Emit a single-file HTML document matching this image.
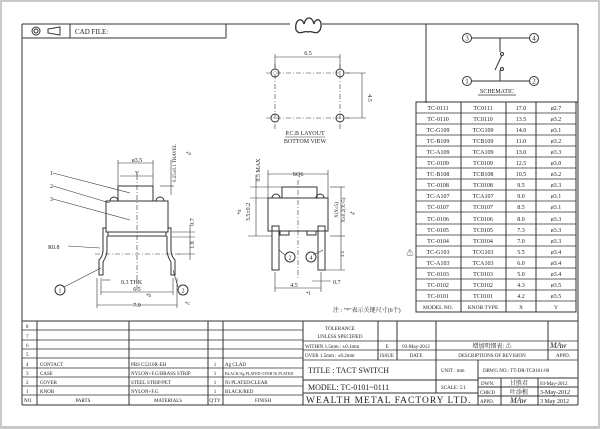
<!DOCTYPE html>
<html><head><meta charset="utf-8"><style>
html,body{margin:0;padding:0;background:#c9c9c9;}
svg{display:block;}
text{font-family:"Liberation Serif","Noto Serif CJK SC",serif;fill:#222;}
</style></head><body>
<svg width="600" height="429" viewBox="0 0 600 429" xmlns="http://www.w3.org/2000/svg">
<rect x="2" y="2" width="596" height="424" fill="#fff"/>
<g stroke="#333" fill="none" stroke-width="1">
<line x1="22" y1="24" x2="290" y2="24"/><line x1="322" y1="24" x2="578" y2="24"/>
<line x1="22" y1="24" x2="22" y2="405"/><line x1="578" y1="24" x2="578" y2="405"/>
<line x1="22" y1="405" x2="578" y2="405"/>
<line x1="22" y1="38" x2="226" y2="38"/><line x1="226" y1="24" x2="226" y2="38"/>
<line x1="70" y1="24" x2="70" y2="38"/>
<circle cx="36" cy="31" r="4"/><circle cx="36" cy="31" r="2"/>
<path d="M48 29 L60 27 L60 35 L48 33 Z"/>
<path d="M296 30 C294 20 302 16 304 24 C306 16 312 16 314 24 C316 16 324 20 320 30 C316 36 312 30 308 32 C304 30 300 36 296 30 Z" stroke-width="1.3"/>
<line x1="426" y1="24" x2="426" y2="103"/>
<line x1="418" y1="102" x2="578" y2="102"/>
<line x1="472" y1="38" x2="529" y2="38"/><line x1="472" y1="81" x2="529" y2="81"/>
<line x1="500" y1="38" x2="500" y2="52"/><line x1="500" y1="70" x2="500" y2="81"/>
<line x1="495" y1="70" x2="502" y2="55"/>
<circle cx="502" cy="54" r="1.5"/><circle cx="502" cy="69" r="1.5"/>
<circle cx="467" cy="38" r="4.5"/><circle cx="534" cy="38" r="4.5"/>
<circle cx="467" cy="81" r="4.5"/><circle cx="534" cy="81" r="4.5"/>
<line x1="478" y1="95" x2="516" y2="95" stroke-width="0.7"/>
<circle cx="275" cy="73" r="4"/><circle cx="340" cy="73" r="4"/>
<circle cx="275" cy="118" r="4"/><circle cx="340" cy="118" r="4"/>
<g stroke-dasharray="5,2,1,2" stroke-width="0.6">
<line x1="266" y1="73" x2="350" y2="73"/><line x1="266" y1="118" x2="350" y2="118"/>
<line x1="275" y1="64" x2="275" y2="130"/><line x1="340" y1="64" x2="340" y2="130"/>
</g>
<line x1="275" y1="57" x2="340" y2="57" stroke-width="0.6"/>
<line x1="275" y1="54" x2="275" y2="68" stroke-width="0.6"/><line x1="340" y1="54" x2="340" y2="68" stroke-width="0.6"/>
<line x1="345" y1="73" x2="366" y2="73" stroke-width="0.6"/><line x1="345" y1="118" x2="366" y2="118" stroke-width="0.6"/>
<line x1="362" y1="73" x2="362" y2="118" stroke-width="0.6"/>
<line x1="285" y1="137" x2="325" y2="137" stroke-width="0.6"/>
<rect x="118" y="186" width="35" height="15"/>
<rect x="106" y="201" width="62" height="31"/>
<rect x="108" y="232" width="58" height="4"/>
<path d="M110 201 a4 4 0 0 1 8 0 M156 201 a4 4 0 0 1 8 0"/>
<path d="M106 228 L103 228 L103 250 Q103 256 99 260 L99 275 L103 275 L103 262 Q107 256 107 250 L107 236"/>
<path d="M168 228 L171 228 L171 250 Q171 256 175 260 L175 275 L171 275 L171 262 Q167 256 167 250 L167 236"/>
<g stroke-dasharray="5,2,1,2" stroke-width="0.6"><line x1="137" y1="175" x2="137" y2="290"/><line x1="95" y1="254" x2="180" y2="254"/></g>
<g stroke-width="0.6">
<line x1="118" y1="163" x2="153" y2="163"/><line x1="120" y1="176" x2="153" y2="176"/>
<line x1="118" y1="160" x2="118" y2="186"/><line x1="153" y1="160" x2="153" y2="186"/>
<line x1="160" y1="186" x2="174" y2="186"/><line x1="171" y1="160" x2="171" y2="195"/>
<line x1="172" y1="232" x2="195" y2="232"/><line x1="172" y1="237" x2="195" y2="237"/><line x1="178" y1="254" x2="195" y2="254"/>
<line x1="190" y1="225" x2="190" y2="260"/>
<line x1="101" y1="292" x2="173" y2="292"/><line x1="97" y1="305" x2="177" y2="305"/>
<line x1="101" y1="278" x2="101" y2="295"/><line x1="173" y1="278" x2="173" y2="295"/>
<line x1="97" y1="278" x2="97" y2="308"/><line x1="177" y1="278" x2="177" y2="308"/>
<line x1="53" y1="173" x2="130" y2="193"/><line x1="53" y1="186" x2="110" y2="203"/>
<line x1="53" y1="199" x2="130" y2="220"/><line x1="68" y1="246" x2="100" y2="248"/>
<line x1="64" y1="287" x2="101" y2="268"/><line x1="178" y1="287" x2="173" y2="270"/>
<line x1="102" y1="280" x2="110" y2="280"/>
</g>
<circle cx="60" cy="290" r="5"/><circle cx="183" cy="290" r="5"/>
<rect x="282" y="187" width="35" height="11"/>
<rect x="268" y="198" width="60" height="33"/>
<path d="M272 198 a4 4 0 0 1 8 0 M316 198 a4 4 0 0 1 8 0"/>
<rect x="272" y="226" width="7" height="44"/><rect x="318" y="226" width="7" height="44"/>
<rect x="280" y="231" width="9" height="4"/><rect x="307" y="231" width="9" height="4"/>
<g stroke-dasharray="5,2,1,2" stroke-width="0.6"><line x1="298" y1="180" x2="298" y2="280"/></g>
<g stroke-width="0.6">
<line x1="268" y1="174" x2="328" y2="174"/><line x1="268" y1="170" x2="268" y2="198"/><line x1="328" y1="170" x2="328" y2="198"/>
<line x1="250" y1="187" x2="282" y2="187"/><line x1="250" y1="198" x2="268" y2="198"/>
<line x1="256" y1="175" x2="256" y2="236"/><line x1="248" y1="236" x2="272" y2="236"/>
<line x1="330" y1="236" x2="345" y2="236"/><line x1="330" y1="187" x2="345" y2="187"/><line x1="325" y1="270" x2="345" y2="270"/>
<line x1="341" y1="187" x2="341" y2="270"/>
<line x1="275" y1="288" x2="321" y2="288"/><line x1="275" y1="272" x2="275" y2="292"/><line x1="321" y1="272" x2="321" y2="292"/>
<line x1="312" y1="281" x2="331" y2="281"/>
<line x1="279" y1="250" x2="285" y2="255"/><line x1="323" y1="250" x2="313" y2="255"/>
</g>
<circle cx="290" cy="257" r="5"/><circle cx="311" cy="257" r="5"/>
<rect x="416" y="102" width="160" height="210"/>
<line x1="461" y1="102" x2="461" y2="312"/><line x1="506" y1="102" x2="506" y2="312"/><line x1="536" y1="102" x2="536" y2="312"/>
<path d="M416 113H576M416 124H576M416 135H576M416 146H576M416 157H576M416 168H576M416 179H576M416 190H576M416 201H576M416 212H576M416 224H576M416 235H576M416 246H576M416 257H576M416 268H576M416 279H576M416 290H576M416 301H576" stroke-width="0.7"/>
<line x1="22" y1="321" x2="578" y2="321"/>
<line x1="37" y1="321" x2="37" y2="405"/><line x1="129" y1="321" x2="129" y2="405"/><line x1="208" y1="321" x2="208" y2="405"/><line x1="223" y1="321" x2="223" y2="405"/><line x1="303" y1="321" x2="303" y2="405"/>
<path d="M22 330H303M22 340H303M22 349H303M22 358H303M22 368H303M22 377H303M22 386H303M22 395H303" stroke-width="0.7"/>
<line x1="378" y1="321" x2="378" y2="360"/><line x1="397" y1="321" x2="397" y2="360"/><line x1="436" y1="321" x2="436" y2="360"/><line x1="548" y1="321" x2="548" y2="360"/>
<path d="M303 341H578M303 350H578M303 360H578" stroke-width="0.7"/>
<line x1="303" y1="380" x2="478" y2="380"/><line x1="303" y1="393" x2="478" y2="393"/>
<line x1="436" y1="360" x2="436" y2="393"/><line x1="478" y1="360" x2="478" y2="405"/>
<line x1="478" y1="378" x2="578" y2="378"/><line x1="478" y1="387" x2="578" y2="387"/><line x1="478" y1="396" x2="578" y2="396"/>
<line x1="501" y1="378" x2="501" y2="405"/><line x1="538" y1="378" x2="538" y2="405"/>
</g>
<g font-size="6">
<text x="75" y="34" font-size="7">CAD FILE:</text>
<text x="467" y="40.5" font-size="7" text-anchor="middle">3</text><text x="534" y="40.5" font-size="7" text-anchor="middle">4</text>
<text x="467" y="83.5" font-size="7" text-anchor="middle">1</text><text x="534" y="83.5" font-size="7" text-anchor="middle">2</text>
<text x="497" y="93" text-anchor="middle" font-size="6">SCHEMATIC</text>
<text x="308" y="55" text-anchor="middle">6.5</text>
<text x="368" y="98" transform="rotate(90 368 98)" text-anchor="middle">4.5</text>
<text x="305" y="135" text-anchor="middle">P.C.B LAYOUT</text>
<text x="305" y="143" text-anchor="middle">BOTTOM VIEW</text>
<text x="137" y="162" text-anchor="middle">ø3.5</text><text x="137" y="175" text-anchor="middle">Y</text>
<text x="176" y="163" transform="rotate(-90 176 163)" text-anchor="middle" font-size="5">0.25±0.1 TRAVEL</text>
<text x="186" y="155" font-size="5">*a</text>
<text x="50" y="175">1</text><text x="50" y="188">2</text><text x="50" y="201">3</text>
<text x="48" y="249">R0.8</text>
<text x="121" y="284">0.3 THK</text>
<text x="137" y="291" text-anchor="middle">6.5</text><text x="146" y="297" font-size="5">*b</text>
<text x="137" y="307" text-anchor="middle">7.9</text><text x="185" y="305" font-size="5">*c</text>
<text x="194" y="222" transform="rotate(-90 194 222)" text-anchor="middle">0.7</text>
<text x="194" y="245" transform="rotate(-90 194 245)" text-anchor="middle">1.8</text>
<text x="60" y="292.5" text-anchor="middle" font-size="6">1</text><text x="183" y="292.5" text-anchor="middle" font-size="6">2</text>
<text x="298" y="176" text-anchor="middle">SQ6</text>
<text x="260" y="170" transform="rotate(-90 260 170)" text-anchor="middle">0.5 MAX</text>
<text x="250" y="212" transform="rotate(-90 250 212)" text-anchor="middle">3.5±0.2</text>
<text x="241" y="212" transform="rotate(-90 241 212)" text-anchor="middle" font-size="5">*d</text>
<text x="338" y="210" transform="rotate(-90 338 210)" text-anchor="middle" font-size="5">X(X≤5)</text>
<text x="345" y="210" transform="rotate(-90 345 210)" text-anchor="middle" font-size="5">X±0.2(X&gt;5)</text>
<text x="350" y="215" font-size="5">*e</text>
<text x="344" y="254" transform="rotate(-90 344 254)" text-anchor="middle" font-size="5">3.5</text>
<text x="333" y="284">0.7</text>
<text x="294" y="287" text-anchor="middle">4.5</text><text x="306" y="295" font-size="5">*f</text>
<text x="290" y="259.5" text-anchor="middle" font-size="6">2</text><text x="311" y="259.5" text-anchor="middle" font-size="6">4</text>
<text x="333" y="312" font-size="6">注 : "*"表示关键尺寸(6个)</text>
</g>
<g font-size="6" text-anchor="middle">
<g><text x="438" y="110">TC-0111</text><text x="483" y="110">TC0111</text><text x="521" y="110">17.0</text><text x="556" y="110">ø2.7</text></g>
<g><text x="438" y="121">TC-0110</text><text x="483" y="121">TC0110</text><text x="521" y="121">13.5</text><text x="556" y="121">ø3.2</text></g>
<g><text x="438" y="132">TC-G109</text><text x="483" y="132">TCG109</text><text x="521" y="132">14.0</text><text x="556" y="132">ø3.1</text></g>
<g><text x="438" y="143">TC-B109</text><text x="483" y="143">TCB109</text><text x="521" y="143">11.0</text><text x="556" y="143">ø3.2</text></g>
<g><text x="438" y="154">TC-A109</text><text x="483" y="154">TCA109</text><text x="521" y="154">13.0</text><text x="556" y="154">ø3.3</text></g>
<g><text x="438" y="165">TC-0109</text><text x="483" y="165">TC0109</text><text x="521" y="165">12.5</text><text x="556" y="165">ø3.0</text></g>
<g><text x="438" y="176">TC-B108</text><text x="483" y="176">TCB108</text><text x="521" y="176">10.5</text><text x="556" y="176">ø3.2</text></g>
<g><text x="438" y="187">TC-0108</text><text x="483" y="187">TC0108</text><text x="521" y="187">9.5</text><text x="556" y="187">ø3.3</text></g>
<g><text x="438" y="198">TC-A107</text><text x="483" y="198">TCA107</text><text x="521" y="198">9.0</text><text x="556" y="198">ø3.1</text></g>
<g><text x="438" y="209">TC-0107</text><text x="483" y="209">TC0107</text><text x="521" y="209">8.5</text><text x="556" y="209">ø3.1</text></g>
<g><text x="438" y="221">TC-0106</text><text x="483" y="221">TC0106</text><text x="521" y="221">8.0</text><text x="556" y="221">ø3.3</text></g>
<g><text x="438" y="232">TC-0105</text><text x="483" y="232">TC0105</text><text x="521" y="232">7.3</text><text x="556" y="232">ø3.3</text></g>
<g><text x="438" y="243">TC-0104</text><text x="483" y="243">TC0104</text><text x="521" y="243">7.0</text><text x="556" y="243">ø3.3</text></g>
<g><text x="438" y="254">TC-G103</text><text x="483" y="254">TCG103</text><text x="521" y="254">5.5</text><text x="556" y="254">ø3.4</text></g>
<g><text x="438" y="265">TC-A103</text><text x="483" y="265">TCA103</text><text x="521" y="265">6.0</text><text x="556" y="265">ø3.4</text></g>
<g><text x="438" y="276">TC-0103</text><text x="483" y="276">TC0103</text><text x="521" y="276">5.0</text><text x="556" y="276">ø3.4</text></g>
<g><text x="438" y="287">TC-0102</text><text x="483" y="287">TC0102</text><text x="521" y="287">4.3</text><text x="556" y="287">ø3.5</text></g>
<g><text x="438" y="298">TC-0101</text><text x="483" y="298">TC0101</text><text x="521" y="298">4.2</text><text x="556" y="298">ø3.5</text></g>
<g font-size="5.5"><text x="438" y="309">MODEL NO.</text><text x="483" y="309">KNOB TYPE</text><text x="521" y="309">X</text><text x="556" y="309">Y</text></g>
<text x="410" y="255" font-size="7">⚠</text>
</g>
<g font-size="5">
<text x="26" y="328">8</text><text x="26" y="338">7</text><text x="26" y="347">6</text><text x="26" y="356">5</text>
<text x="26" y="366">4</text><text x="26" y="375">3</text><text x="26" y="384">2</text><text x="26" y="393">1</text><text x="24" y="402">NO.</text>
<text x="40" y="366">CONTACT</text><text x="40" y="375">CASE</text><text x="40" y="384">COVER</text><text x="40" y="393">KNOB</text>
<text x="83" y="402" text-anchor="middle">PARTS</text>
<text x="131" y="366">PBS C5210R-EH</text><text x="131" y="375">NYLON+F.G/BRASS STRIP</text><text x="131" y="384">STEEL STRIP/PET</text><text x="131" y="393">NYLON+F.G</text>
<text x="168" y="402" text-anchor="middle">MATERIALS</text>
<text x="215" y="366" text-anchor="middle">1</text><text x="215" y="375" text-anchor="middle">1</text><text x="215" y="384" text-anchor="middle">1</text><text x="215" y="393" text-anchor="middle">1</text><text x="215" y="402" text-anchor="middle">Q'TY</text>
<text x="225" y="366">Ag CLAD</text><text x="225" y="375" font-size="4">BLACK/Ag PLATED OVER Ni PLATED</text><text x="225" y="384">Ni PLATED/CLEAR</text><text x="225" y="393">BLACK/RED</text>
<text x="263" y="402" text-anchor="middle">FINISH</text>
<text x="340" y="330" text-anchor="middle">TOLERANCE</text><text x="340" y="338" text-anchor="middle">UNLESS  SPECIFIED</text>
<text x="305" y="348">WITHIN 1.5mm : ±0.1mm</text><text x="305" y="357">OVER 1.5mm : ±0.2mm</text>
<text x="387" y="348" text-anchor="middle">E</text><text x="416" y="348" text-anchor="middle">03-May-2012</text>
<text x="387" y="357" text-anchor="middle">ISSUE</text><text x="416" y="357" text-anchor="middle">DATE</text>
<text x="492" y="348" text-anchor="middle" font-size="6">增加明细表: ⚠</text>
<text x="492" y="357" text-anchor="middle">DESCRIPTIONS OF REVISION</text>
<text x="563" y="357" text-anchor="middle">APPD.</text>
<text x="441" y="372">UNIT : mm</text><text x="441" y="389">SCALE: 5:1</text>
<text x="483" y="372">DRWG NO.:  TT-DR-TC0101-00</text>
<text x="481" y="385">DWN.</text><text x="480" y="394">CHK'D</text><text x="480" y="403">APPD.</text>
<text x="519" y="385" text-anchor="middle" font-size="6">甘胜君</text><text x="519" y="394" text-anchor="middle" font-size="6">叶添根</text>
<text x="540" y="385">03-May-2012</text><text x="540" y="394" font-size="6">3-May-2012</text><text x="540" y="403" font-size="6">3 May 2012</text>
</g>
<text x="550" y="348" font-size="8" font-style="italic">MAw</text>
<text x="510" y="403" font-size="8" font-style="italic">MAw</text>
<g font-size="8">
<text x="308" y="373">TITLE : TACT SWITCH</text>
<text x="308" y="390">MODEL: TC-0101~0111</text>
<text x="306" y="403" font-size="9.5" letter-spacing="1">WEALTH METAL FACTORY LTD.</text>
</g>
</svg>
</body></html>
